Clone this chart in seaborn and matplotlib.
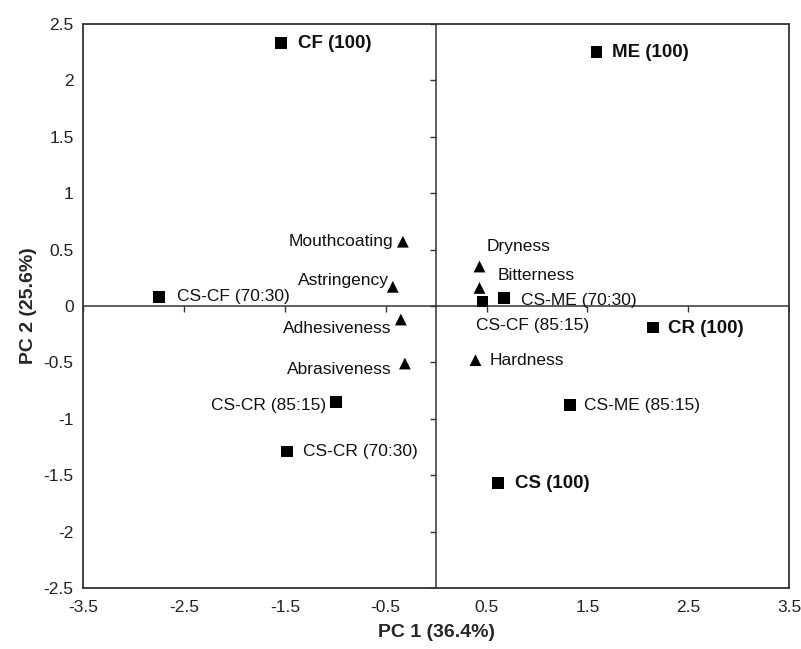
import numpy as np
import pandas as pd
import matplotlib
matplotlib.use("Agg")
import matplotlib.pyplot as plt
import seaborn as sns

# samples (squares) and attributes (triangles)
labels = ["CF (100)", "ME (100)", "CS-CF (70:30)", "CS-CR (85:15)", "CS-CR (70:30)",
          "CS-CF (85:15)", "CS-ME (70:30)", "CR (100)", "CS-ME (85:15)", "CS (100)",
          "Mouthcoating", "Astringency", "Adhesiveness", "Abrasiveness",
          "Dryness", "Bitterness", "Hardness"]
pc1 = [-1.54, 1.59, -2.75, -0.99, -1.48, 0.46, 0.67, 2.15, 1.33, 0.61,
       -0.33, -0.43, -0.35, -0.31, 0.43, 0.43, 0.39]
pc2 = [2.33, 2.25, 0.08, -0.85, -1.29, 0.04, 0.07, -0.19, -0.88, -1.57,
       0.57, 0.17, -0.12, -0.51, 0.35, 0.16, -0.48]
kind = ["sample"] * 10 + ["attribute"] * 7
bold = [True, True, False, False, False, False, False, True, False, True,
        False, False, False, False, False, False, False]

# label offsets in pixels (dx, dy) and alignment
offsets = [(17, 0, "left"), (16, 0, "left"), (18, 0, "left"), (-10, -4, "right"),
           (16, 0, "left"), (-7, -24, "left"), (17, -2, "left"), (15, -1, "left"),
           (14, 0, "left"), (17, 0, "left"),
           (-10, 0, "right"), (-4, 6, "right"), (-9, -9, "right"), (-13, -6, "right"),
           (7, 20, "left"), (18, 12, "left"), (14, 0, "left")]

df = pd.DataFrame({"PC1": pc1, "PC2": pc2, "kind": kind, "label": labels})

sns.set_style("white")
plt.rcParams["font.family"] = ["Liberation Sans", "DejaVu Sans"]

fig, ax = plt.subplots(figsize=(8.01, 6.49), dpi=100)
fig.subplots_adjust(left=0.104, right=0.985, top=0.963, bottom=0.094)

sns.scatterplot(data=df, x="PC1", y="PC2", style="kind",
                markers={"sample": "s", "attribute": "^"},
                color="black", s=72, edgecolor="black", linewidth=0,
                legend=False, ax=ax)

for i, lab in enumerate(labels):
    dx, dy, ha = offsets[i]
    ax.annotate(lab, (pc1[i], pc2[i]), xytext=(dx, dy), textcoords="offset pixels",
                ha=ha, va="center", fontsize=13.5 if bold[i] else 12.5,
                fontweight="bold" if bold[i] else "normal", color="#111111")

ax.set_xlim(-3.5, 3.5)
ax.set_ylim(-2.5, 2.5)
xt = np.arange(-3.5, 3.6, 1.0)
yt = np.arange(-2.5, 2.6, 0.5)
ax.set_xticks(xt)
ax.set_yticks(yt)
ax.set_xticklabels([f"{v:g}" for v in xt])
ax.set_yticklabels([f"{v:g}" for v in yt])
ax.tick_params(axis="both", length=0, labelsize=12.5, colors="#222222")
ax.tick_params(axis="x", pad=9)
ax.tick_params(axis="y", pad=7)

# axis lines crossing at zero with small tick marks
ax.axhline(0, color="#333333", lw=1.1, zorder=0)
ax.axvline(0, color="#333333", lw=1.1, zorder=0)
ax.plot(xt, np.zeros_like(xt), ls="none", marker=3, ms=4, color="#333333", mew=1)
ax.plot(np.zeros_like(yt), yt, ls="none", marker=0, ms=4, color="#333333", mew=1)

for sp in ax.spines.values():
    sp.set_color("#333333")
    sp.set_linewidth(1.3)

ax.set_xlabel("PC 1 (36.4%)", fontsize=14, fontweight="bold", labelpad=6)
ax.set_ylabel("PC 2 (25.6%)", fontsize=14, fontweight="bold", labelpad=5)

fig.savefig("out.png", dpi=100)
